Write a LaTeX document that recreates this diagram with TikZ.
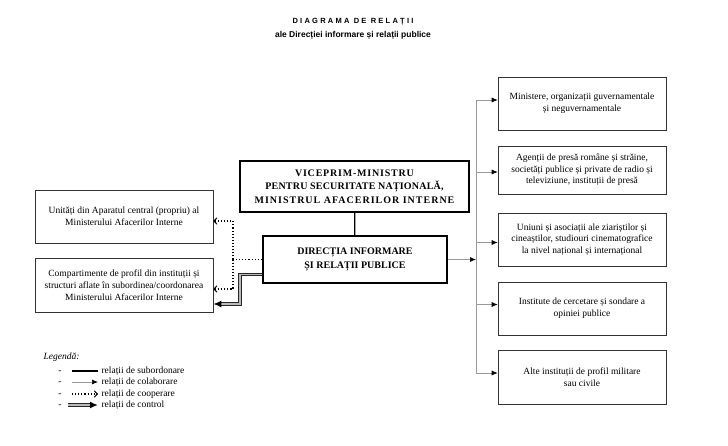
\documentclass[tikz,border=0pt]{standalone}
\usepackage{fontspec}
\setmainfont{Liberation Serif}
\newfontfamily\titlefont{Liberation Sans}
\usetikzlibrary{arrows.meta, positioning}

\tikzset{
    box/.style={draw=black!80, line width=0.6pt, align=center, inner sep=2pt,
        font=\fontsize{9.5}{11.7}\selectfont},
    mainbox/.style={draw=black, line width=2.2pt, align=center,
        font=\fontsize{10}{13.5}\selectfont\bfseries},
    subord/.style={draw=black, line width=1.3pt},
    colab/.style={draw=gray!80, line width=0.7pt, -{Latex[black,length=6pt,width=5pt]}},
    coop/.style={draw=black, line width=1.1pt, dotted, -{Straight Barb[length=3pt,width=6.5pt,line width=1pt]}},
    ctrl/.style={preaction={draw=black!85, line width=3.4pt, arrows=-, shorten >=6pt},
        draw=gray!55, line width=1.8pt, -{Latex[black,length=8pt,width=7pt]}}
}

\begin{document}
\begin{tikzpicture}[x=1pt, y=-1pt]

    \useasboundingbox (0,0) rectangle (728,445);

    % Title
    \node (title) at (353,22) {\titlefont\bfseries\fontsize{7.5}{8}\selectfont\addfontfeature{LetterSpace=30}DIAGRAMA DE RELAȚII};
    \node (subtitle) at (353,35) {\titlefont\bfseries\fontsize{8.5}{9}\selectfont ale Direcției informare și relații publice};

    % Main boxes
    \node[mainbox, minimum width=229, minimum height=51] (vice) at (354.5,186.5)
        {\addfontfeature{LetterSpace=8}VICEPRIM-MINISTRU\\\addfontfeature{LetterSpace=2}PENTRU SECURITATE NAȚIONALĂ,\\\addfontfeature{LetterSpace=10}MINISTRUL AFACERILOR INTERNE};
    \node[mainbox, minimum width=184, minimum height=47] (dir) at (355,259.5)
        {DIRECȚIA INFORMARE\\ȘI RELAȚII PUBLICE};

    % Left boxes
    \node[box, minimum width=178, minimum height=53] (aparat) at (124,216.5)
        {Unități din Aparatul central (propriu) al\\Ministerului Afacerilor Interne};
    \node[box, minimum width=178, minimum height=54] (compart) at (124,285)
        {Compartimente de profil din instituții și\\structuri aflate în subordinea/coordonarea\\Ministerului Afacerilor Interne};

    % Right boxes
    \node[box, minimum width=168, minimum height=53] (minist) at (582,103.5)
        {Ministere, organizații guvernamentale\\și neguvernamentale};
    \node[box, minimum width=168, minimum height=48] (agentii) at (582,170)
        {Agenții de presă române și străine,\\societăți publice și private de radio și\\televiziune, instituții de presă};
    \node[box, minimum width=168, minimum height=53] (uniuni) at (582,239.5)
        {Uniuni și asociații ale ziariștilor și\\cineaștilor, studiouri cinematografice\\la nivel național și internațional};
    \node[box, minimum width=168, minimum height=53] (institute) at (582,308.5)
        {Institute de cercetare și sondare a\\opiniei publice};
    \node[box, minimum width=168, minimum height=54] (alte) at (582,377)
        {Alte instituții de profil militare\\sau civile};

    % Subordination
    \draw[subord] (vice) -- (dir);

    % Collaboration bus
    \coordinate (bustop) at (476,100);
    \coordinate (busbot) at (476,373);
    \draw[draw=gray!80, line width=0.7pt] (bustop) -- (busbot);
    \draw[colab] (dir.east) -- (dir.east -| bustop);
    \draw[colab] (bustop) -- (bustop -| minist.west);
    \draw[colab] ([yshift=-2]agentii.west -| bustop) -- ([yshift=-2]agentii.west);
    \draw[colab] ([yshift=-3]uniuni.west -| bustop) -- ([yshift=-3]uniuni.west);
    \draw[colab] ([yshift=4]institute.west -| bustop) -- ([yshift=4]institute.west);
    \draw[colab] (busbot) -- (busbot -| alte.west);

    % Cooperation
    \coordinate (coopj) at (233,259.5);
    \draw[draw=black, line width=1.1pt, dotted] (dir.west) -- (coopj);
    \draw[coop] (coopj) |- ([yshift=-4.5]aparat.east);
    \draw[coop] (coopj) |- ([yshift=-4]compart.east);

    % Control
    \draw[ctrl] ([yshift=-15]dir.west) -- ++(-22,0) |- ([yshift=-19]compart.east);

    % Legend
    \node[anchor=west, font=\fontsize{9.5}{11}\selectfont\itshape] (legend) at (40,357) {Legendă:};
    \node[anchor=west, font=\fontsize{9.5}{11}\selectfont] (lsub) at (98,371) {relații de subordonare};
    \node[anchor=west, font=\fontsize{9.5}{11}\selectfont] (lcol) at (98,382) {relații de colaborare};
    \node[anchor=west, font=\fontsize{9.5}{11}\selectfont] (lcoo) at (98,394) {relații de cooperare};
    \node[anchor=west, font=\fontsize{9.5}{11}\selectfont] (lctr) at (98,405) {relații de control};
    \node[font=\fontsize{9.5}{11}\selectfont] (d1) at (60,372) {-};
    \node[font=\fontsize{9.5}{11}\selectfont] (d2) at (60,383) {-};
    \node[font=\fontsize{9.5}{11}\selectfont] (d3) at (60,395) {-};
    \node[font=\fontsize{9.5}{11}\selectfont] (d4) at (60,406) {-};
    \draw[subord, line width=1.1pt] ([xshift=-26]lsub.west) -- (lsub.west);
    \draw[colab] ([xshift=-26]lcol.west) -- (lcol.west);
    \draw[coop] ([xshift=-26]lcoo.west) -- (lcoo.west);
    \draw[ctrl] ([xshift=-30]lctr.west) -- (lctr.west);

\end{tikzpicture}
\end{document}
